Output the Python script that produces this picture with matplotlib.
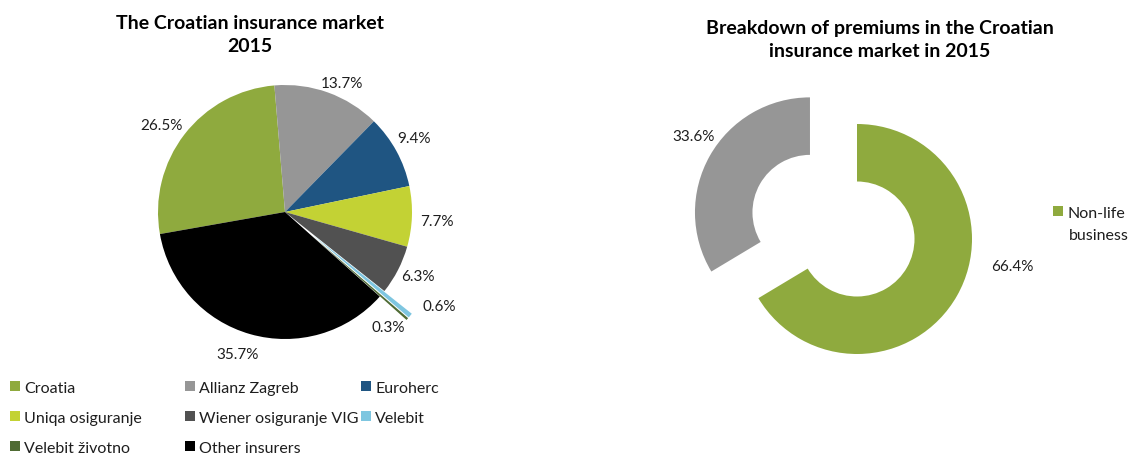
import numpy as np
import matplotlib
matplotlib.use("Agg")
import matplotlib.pyplot as plt
from matplotlib.patches import Patch

plt.rcParams['font.family'] = ['Lato', 'DejaVu Sans']

# left pie - market shares 2015
insurers = ['Croatia', 'Allianz Zagreb', 'Euroherc', 'Uniqa osiguranje',
            'Wiener osiguranje VIG', 'Velebit', 'Velebit životno', 'Other insurers']
shares = [26.5, 13.7, 9.4, 7.7, 6.3, 0.6, 0.3, 35.7]
pie_colors = ['#8faa3e', '#969696', '#1f5582', '#c3d234', '#515151',
              '#7ec6e0', '#4f6b34', '#000000']

# right donut - premiums breakdown
business = ['Non-life business', 'Life business']
premiums = [66.4, 33.6]
donut_colors = ['#8faa3e', '#969696']

W, H = 1129, 456
fig = plt.figure(figsize=(W / 100, H / 100), dpi=100)
txtc = '#1e1e1e'


def box(cx, cy, r, half):
    # axes box (figure fraction) so that radius 1 == r pixels, centre at (cx, cy) px from top-left
    s = half * r
    return [(cx - s) / W, (H - cy - s) / H, 2 * s / W, 2 * s / H]


def put_labels(ax, wedges, vals, dist, nudge):
    for w, v, d, n in zip(wedges, vals, dist, nudge):
        a = np.deg2rad((w.theta1 + w.theta2) / 2 + n)
        ax.text(d * np.cos(a), d * np.sin(a), '%.1f%%' % v, ha='center', va='center',
                fontsize=11, color=txtc)


# ---- left pie ----
ax1 = fig.add_axes(box(285, 213, 127, 1.6))
explode = [0, 0, 0, 0, 0, 0.28, 0.28, 0]
wedges1, _ = ax1.pie(shares, colors=pie_colors, startangle=190, counterclock=False,
                     explode=explode, radius=1, wedgeprops=dict(linewidth=0))
ax1.set_xlim(-1.6, 1.6)
ax1.set_ylim(-1.6, 1.6)
ax1.axis('off')
put_labels(ax1, wedges1, shares,
           [1.19, 1.11, 1.17, 1.20, 1.16, 1.42, 1.22, 1.18],
           [2.4, -4.2, 1.4, -1.4, 1.3, 8.3, -6.9, -2.7])

fig.text(250 / W, 1 - 35 / H, 'The Croatian insurance market\n2015', ha='center', va='center',
         fontsize=14, fontweight='bold', color='black', linespacing=1.4)

# legend, three columns laid out row by row
cols = [[0, 3, 6], [1, 4, 7], [2, 5]]
col_x = [10, 185, 361]
for cx, idx in zip(col_x, cols):
    hs = [Patch(facecolor=pie_colors[i], edgecolor='none') for i in idx]
    lg = fig.legend(hs, [insurers[i] for i in idx], loc='upper left',
                    bbox_to_anchor=(cx / W, 1 - 382 / H), frameon=False, fontsize=11.5,
                    handlelength=0.6, handleheight=0.6, handletextpad=0.3,
                    labelspacing=1.0, borderpad=0, borderaxespad=0, labelcolor=txtc)

# ---- right donut ----
ax2 = fig.add_axes(box(857, 240, 115, 1.6))
wedges2, _ = ax2.pie(premiums, colors=donut_colors, startangle=90, counterclock=False,
                     explode=[0, 0.47], radius=1, wedgeprops=dict(width=0.5, linewidth=0))
ax2.set_xlim(-1.6, 1.6)
ax2.set_ylim(-1.6, 1.6)
ax2.axis('off')
for w, v, d, n in zip(wedges2, premiums, [1.37, 1.68], [19.6, -2.6]):
    a = np.deg2rad((w.theta1 + w.theta2) / 2 + n)
    ax2.text(d * np.cos(a), d * np.sin(a), '%.1f%%' % v, ha='center', va='center',
             fontsize=11, color=txtc)

fig.text(880 / W, 1 - 40 / H, 'Breakdown of premiums in the Croatian\ninsurance market in 2015',
         ha='center', va='center', fontsize=14, fontweight='bold', color='black', linespacing=1.4)

# only the non-life entry is shown; label wraps onto a second line
first, second = business[0].split(' ', 1)
fig.legend([Patch(facecolor=donut_colors[0], edgecolor='none')], [first], loc='upper left',
           bbox_to_anchor=(1053 / W, 1 - 207 / H), frameon=False, fontsize=11.5,
           handlelength=0.6, handleheight=0.6, handletextpad=0.3,
           borderpad=0, borderaxespad=0, labelcolor=txtc)
fig.text(1069 / W, 1 - 236 / H, second, ha='left', va='center', fontsize=11.5, color=txtc)

fig.savefig('out.png', dpi=100)
